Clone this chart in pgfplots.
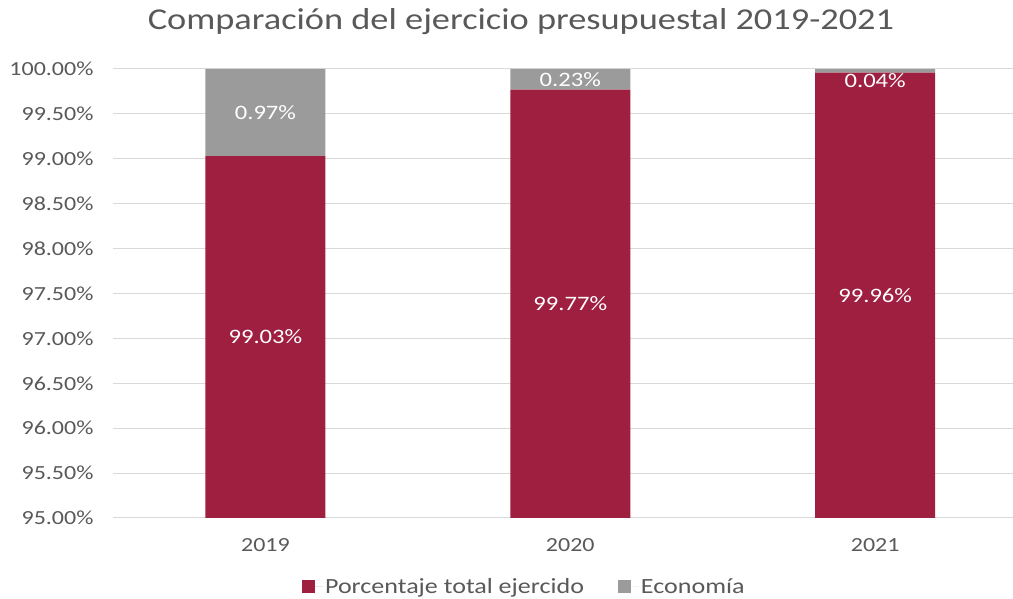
\documentclass[border=0pt]{standalone}
\usepackage{fontspec}
\setmainfont{Carlito}[FakeStretch=1.2]
\usepackage{pgfplots}
\pgfplotsset{compat=1.18}
\definecolor{rojo}{RGB}{158,31,63}
\definecolor{gris}{RGB}{155,155,155}
\definecolor{txt}{RGB}{89,89,89}
\definecolor{gridc}{RGB}{217,217,217}
\tikzset{lbl/.style={text=white, font=\fontsize{20.5}{24}\selectfont}}
\begin{document}
\begin{tikzpicture}
\clip (-113pt,-81pt) rectangle (900pt,518pt);
\begin{axis}[
  at={(0,0)}, anchor=south west,
  scale only axis, width=900pt, height=449pt,
  ybar stacked, bar width=120pt,
  xmin=-0.5, xmax=2.452, ymin=95, ymax=100,
  xtick={0,1,2}, xticklabels={2019,2020,2021},
  ytick={95,95.5,96,96.5,97,97.5,98,98.5,99,99.5,100},
  yticklabel={\pgfmathprintnumber[fixed,fixed zerofill,precision=2]{\tick}\%},
  /pgf/number format/assume math mode=true,
  axis line style={draw=none}, major tick style={draw=none},
  ymajorgrids, grid style={gridc, line width=1pt},
  ticklabel style={txt, font=\fontsize{20}{24}\selectfont},
  yticklabel style={xshift=-16pt},
  xticklabel style={yshift=-17pt},
  legend style={at={(0.457,0)}, yshift=-69pt, anchor=center, draw=none,
    legend columns=2, font=\fontsize{21.7}{26}\selectfont, text=txt,
    /tikz/every even column/.append style={column sep=32pt}},
  legend image code/.code={\fill[#1] (-9pt,-6pt) rectangle (4pt,7pt); \path (4pt,0pt) -- (12pt,0pt);},
]
\addplot[fill=rojo, draw=none] coordinates {(0,99.03) (1,99.77) (2,99.96)};
\addplot[fill=gris, draw=none] coordinates {(0,0.97) (1,0.23) (2,0.04)};
\legend{Porcentaje total ejercido, Economía}
\coordinate (a1) at (axis cs:0,97.015);
\coordinate (a2) at (axis cs:0,99.515);
\coordinate (b1) at (axis cs:1,97.385);
\coordinate (b2) at (axis cs:1,99.885);
\coordinate (c1) at (axis cs:2,97.48);
\coordinate (c2) at (axis cs:2,99.87);
\end{axis}
\node[lbl] at (a1) {99.03\%};
\node[lbl] at (a2) {0.97\%};
\node[lbl] at (b1) {99.77\%};
\node[lbl] at (b2) {0.23\%};
\node[lbl] at (c1) {99.96\%};
\node[lbl] at (c2) {0.04\%};
\node[txt, font=\fontsize{30.3}{36}\selectfont] at (408pt,496pt) {Comparación del ejercicio presupuestal 2019-2021};
\end{tikzpicture}
\end{document}
